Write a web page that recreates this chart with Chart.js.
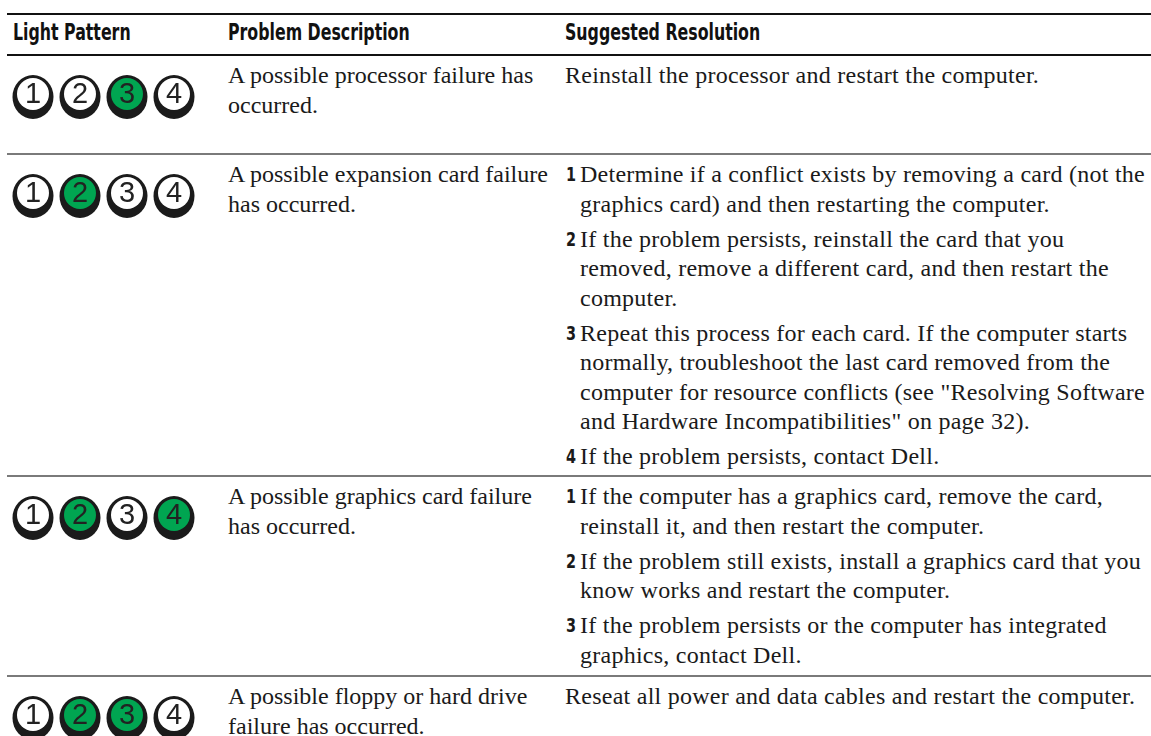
<!DOCTYPE html>
<html>
<head>
<meta charset="utf-8">
<script src="https://cdn.jsdelivr.net/npm/chart.js@4"></script>
<style>
  html, body { margin: 0; padding: 0; background: #fff; }
  body { width: 1151px; height: 736px; overflow: hidden; position: relative; }
  .rule { position: absolute; left: 7px; right: 0; }
  .rule.black { height: 2px; background: #111; }
  .rule.gray { height: 2px; background: #7a7a7a; }
  .hdr { position: absolute; top: 18px; font-family: "DejaVu Sans Condensed", "Liberation Sans", sans-serif;
         font-weight: bold; font-size: 22.5px; color: #111; line-height: 28px; white-space: nowrap;
         transform: scaleX(0.78); transform-origin: left center; }
  .row { position: absolute; left: 0; right: 0; }
  .led { position: absolute; left: 0; top: 0; width: 208px; height: 80px; }
  .txt { position: absolute; top: 5px; font-family: "Liberation Serif", serif; font-size: 24px;
         line-height: 29.5px; color: #1a1a1a; white-space: nowrap; }
  .desc { left: 228px; }
  .res { left: 565px; letter-spacing: 0.25px; }
  .item { position: relative; padding-left: 15px; margin-bottom: 5.5px; }
  .item b { position: absolute; left: 1px; top: 0px; font-family: "DejaVu Sans Condensed", sans-serif;
            font-size: 20px; letter-spacing: 0; transform: scaleX(0.8); transform-origin: left center; }
</style>
</head>
<body>
<div class="rule black" style="top:13px"></div>
<div class="hdr" style="left:13px">Light Pattern</div>
<div class="hdr" style="left:228px">Problem Description</div>
<div class="hdr" style="left:565px">Suggested Resolution</div>
<div class="rule black" style="top:54px"></div>
<div id="rows"></div>

<script>
// LED numbers and which ones are lit (1 = green) for each row
const ledNumbers = [1, 2, 3, 4];
const ledPatterns = [
  [0, 0, 1, 0],
  [0, 1, 0, 0],
  [0, 1, 0, 1],
  [0, 1, 1, 0]
];
const descriptions = [
  ['A possible processor failure has', 'occurred.'],
  ['A possible expansion card failure', 'has occurred.'],
  ['A possible graphics card failure', 'has occurred.'],
  ['A possible floppy or hard drive', 'failure has occurred.']
];
// null numbers mean a plain paragraph
const resolutions = [
  [[null, ['Reinstall the processor and restart the computer.']]],
  [
    [1, ['Determine if a conflict exists by removing a card (not the', 'graphics card) and then restarting the computer.']],
    [2, ['If the problem persists, reinstall the card that you', 'removed, remove a different card, and then restart the', 'computer.']],
    [3, ['Repeat this process for each card. If the computer starts', 'normally, troubleshoot the last card removed from the', 'computer for resource conflicts (see "Resolving Software', 'and Hardware Incompatibilities" on page 32).']],
    [4, ['If the problem persists, contact Dell.']]
  ],
  [
    [1, ['If the computer has a graphics card, remove the card,', 'reinstall it, and then restart the computer.']],
    [2, ['If the problem still exists, install a graphics card that you', 'know works and restart the computer.']],
    [3, ['If the problem persists or the computer has integrated', 'graphics, contact Dell.']]
  ],
  [[null, ['Reseat all power and data cables and restart the computer.']]]
];
const rowTops = [56, 155, 477, 677];
const rowRules = [153, 475, 675];

const green = '#00a551';

// draws each point as a shadowed ring LED with its number
const ledPlugin = {
  id: 'ledPlugin',
  afterDatasetsDraw(chart) {
    const ctx = chart.ctx;
    const ds = chart.data.datasets[0];
    chart.getDatasetMeta(0).data.forEach((pt, i) => {
      const x = pt.x, y = pt.y;
      const lit = ds.lit[i] === 1;
      ctx.save();
      ctx.fillStyle = '#1b1b1b';
      ctx.beginPath();
      ctx.ellipse(x, y + 1, 20.5, 22, 0, 0, Math.PI * 2);
      ctx.fill();
      ctx.fillStyle = lit ? green : '#fff';
      ctx.beginPath();
      ctx.arc(x, y - 2, 16, 0, Math.PI * 2);
      ctx.fill();
      ctx.fillStyle = '#222';
      ctx.font = '29px "Liberation Sans", Arial, sans-serif';
      ctx.textAlign = 'center';
      ctx.textBaseline = 'middle';
      ctx.fillText(String(ledNumbers[i]), x, y - 1);
      ctx.restore();
    });
  }
};

const rowsEl = document.getElementById('rows');
rowRules.forEach(t => {
  const r = document.createElement('div');
  r.className = 'rule gray';
  r.style.top = t + 'px';
  document.body.appendChild(r);
});

ledPatterns.forEach((pattern, r) => {
  const row = document.createElement('div');
  row.className = 'row';
  row.style.top = rowTops[r] + 'px';
  rowsEl.appendChild(row);

  const box = document.createElement('div');
  box.className = 'led';
  const cv = document.createElement('canvas');
  cv.width = 208;
  cv.height = 80;
  box.appendChild(cv);
  row.appendChild(box);

  const desc = document.createElement('div');
  desc.className = 'txt desc';
  desc.innerHTML = descriptions[r].join('<br>');
  row.appendChild(desc);

  const res = document.createElement('div');
  res.className = 'txt res';
  resolutions[r].forEach(([n, lines]) => {
    const p = document.createElement('div');
    if (n === null) {
      p.innerHTML = lines.join('<br>');
    } else {
      p.className = 'item';
      p.innerHTML = '<b>' + n + '</b>' + lines.join('<br>');
    }
    res.appendChild(p);
  });
  row.appendChild(res);

  new Chart(cv.getContext('2d'), {
    type: 'scatter',
    data: {
      datasets: [{
        data: ledNumbers.map(n => ({ x: n, y: 0 })),
        lit: pattern,
        pointRadius: 0,
        pointHoverRadius: 0
      }]
    },
    options: {
      responsive: false,
      animation: false,
      events: [],
      layout: { padding: 0 },
      scales: {
        x: { type: 'linear', min: 0.298, max: 0.298 + 208 / 47, display: false },
        y: { type: 'linear', min: -1, max: 1, display: false }
      },
      plugins: { legend: { display: false }, tooltip: { enabled: false } }
    },
    plugins: [ledPlugin]
  });
});
</script>
</body>
</html>
